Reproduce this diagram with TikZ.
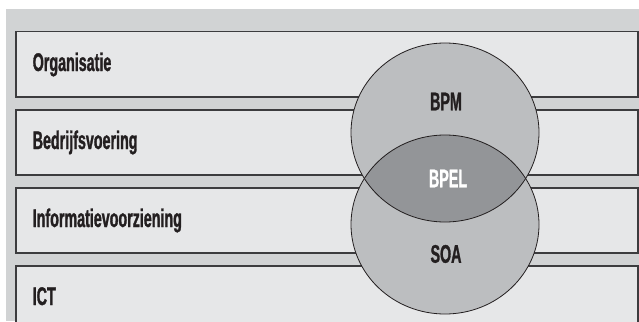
\documentclass[tikz,border=0pt]{standalone}
\usepackage{fontspec}
\setmainfont{Liberation Sans}[FakeStretch=0.56,BoldFeatures={FakeBold=1.2}]
\usepackage{xcolor}
\usepackage{tikz}
\usetikzlibrary{positioning,shapes.geometric}
\definecolor{panel}{HTML}{D1D3D4}
\definecolor{layer}{HTML}{E6E7E8}
\definecolor{layerline}{HTML}{3C3C3E}
\definecolor{disc}{HTML}{BCBEC0}
\definecolor{overlap}{HTML}{939598}
\definecolor{ink}{HTML}{231F20}

\begin{document}
\begin{tikzpicture}[x=1pt,y=-1pt,
  node distance=11.5pt,
  layerbox/.style={draw=layerline,line width=1.5pt,fill=layer,anchor=north west,
              minimum width=622pt,minimum height=65pt,inner xsep=17pt,
              text width=588pt,align=left,text height=17.5pt,text depth=4pt,
              font=\bfseries\fontsize{25.5}{28}\selectfont,text=ink},
  disc/.style={ellipse,fill=disc,minimum width=188pt,minimum height=179pt,inner sep=0pt},
  tag/.style={font=\bfseries\fontsize{25.5}{28}\selectfont,text=ink,
              text height=17.5pt,text depth=0pt,inner sep=0pt}]
\useasboundingbox (0,0) rectangle (639,321);
\clip (0,0) rectangle (639,321);
\fill[white] (0,0) rectangle (639,321);
\fill[panel] (6,9) rectangle (639,321);
% the four layers
\node[layerbox] (org) at (15,31) {Organisatie};
\node[layerbox,below=of org.south west,anchor=north west] (bedr) {Bedrijfsvoering};
\node[layerbox,below=of bedr.south west,anchor=north west] (info) {Informatievoorziening};
\node[layerbox,below=of info.south west,anchor=north west] (ict) {ICT};
% the two discs and where they meet
\node[disc] (bpm) at (445,132.5) {};
\node[disc] (soa) at (445,224.5) {};
\begin{scope}
  \clip (bpm.center) ellipse [x radius=94pt,y radius=89.5pt];
  \fill[overlap] (soa.center) ellipse [x radius=94pt,y radius=89.5pt];
\end{scope}
\draw[ink,line width=0.8pt] (bpm.center) ellipse [x radius=94pt,y radius=89.5pt];
\draw[ink,line width=0.8pt] (soa.center) ellipse [x radius=94pt,y radius=89.5pt];
\node[tag] (bpmtag) at (446,101.5) {BPM};
\node[tag,text=white] (bpeltag) at (448,178.5) {BPEL};
\node[tag] (soatag) at (446,254) {SOA};
\end{tikzpicture}
\end{document}
